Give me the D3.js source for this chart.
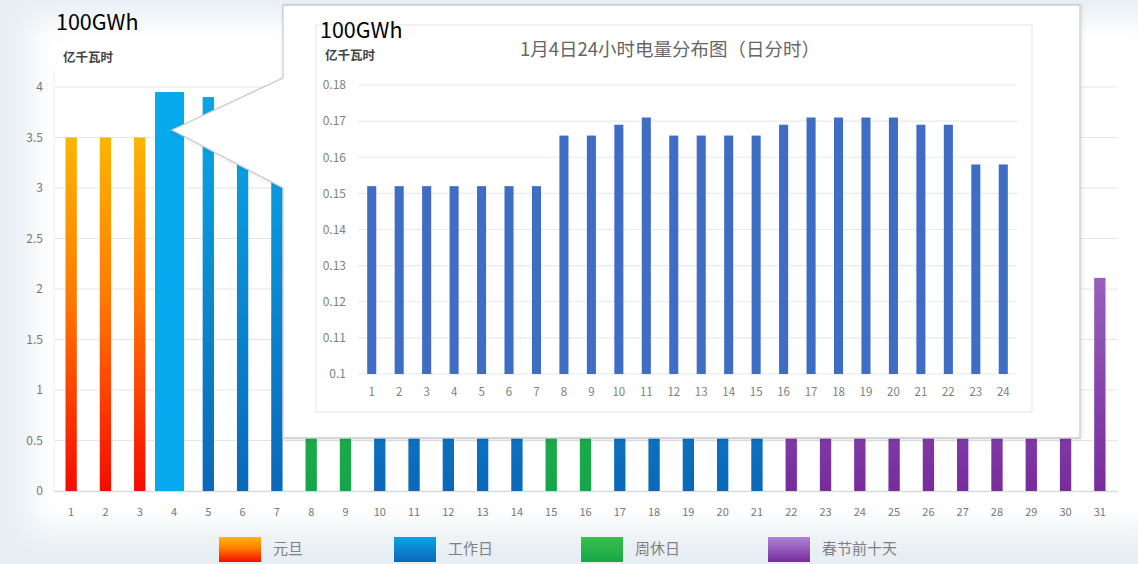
<!DOCTYPE html>
<html><head><meta charset="utf-8">
<script src="https://cdn.jsdelivr.net/npm/d3@7/dist/d3.min.js"></script>
<style>
body{margin:0;background:#fff;}
svg{display:block;}
text{font-family:"Noto Sans CJK SC","Noto Sans",sans-serif;}
</style>
</head><body>
<svg id="c" width="1138" height="564"></svg>
<script>
// ---------------- DATA ----------------
const dayLabels = ["1","2","3","4","5","6","7","8","9","10","11","12","13","14","15","16","17","18","19","20","21","22","23","24","25","26","27","28","29","30","31"];
const dayValues = [3.5,3.5,3.5,3.95,3.9,3.88,3.86,3.45,3.4,3.85,3.9,3.88,3.86,3.82,3.45,3.4,3.8,3.78,3.75,3.7,3.6,3.4,3.3,3.2,3.1,3.0,2.9,2.8,2.7,2.6,2.11];
const dayTypes = ["元旦","元旦","元旦","工作日","工作日","工作日","工作日","周休日","周休日","工作日","工作日","工作日","工作日","工作日","周休日","周休日","工作日","工作日","工作日","工作日","工作日","春节前十天","春节前十天","春节前十天","春节前十天","春节前十天","春节前十天","春节前十天","春节前十天","春节前十天","春节前十天"];
const highlightDay = "4";
const legendLabels = ["元旦","工作日","周休日","春节前十天"];
const mainTicks = [0,0.5,1,1.5,2,2.5,3,3.5,4];

const hourLabels = ["1","2","3","4","5","6","7","8","9","10","11","12","13","14","15","16","17","18","19","20","21","22","23","24"];
const hourValues = [0.152,0.152,0.152,0.152,0.152,0.152,0.152,0.166,0.166,0.169,0.171,0.166,0.166,0.166,0.166,0.169,0.171,0.171,0.171,0.171,0.169,0.169,0.158,0.158];
const insetTicks = [0.1,0.11,0.12,0.13,0.14,0.15,0.16,0.17,0.18];

const unitText = "100GWh";
const unitCN = "亿千瓦时";
const insetTitle = "1月4日24小时电量分布图（日分时）";

// ---------------- SETUP ----------------
const svg = d3.select("#c");
const defs = svg.append("defs");

const blur = defs.append("filter").attr("id","soft").attr("x","-10%").attr("y","-10%").attr("width","120%").attr("height","120%");
blur.append("feGaussianBlur").attr("stdDeviation",14);

const shadow = defs.append("filter").attr("id","shadow").attr("x","-5%").attr("y","-5%").attr("width","110%").attr("height","110%");
shadow.append("feDropShadow").attr("dx",1).attr("dy",1).attr("stdDeviation",2).attr("flood-color","#000").attr("flood-opacity",0.12);

// background
svg.append("rect").attr("width",1138).attr("height",564).attr("fill","#e7eef4");
svg.append("rect").attr("x",30).attr("y",18).attr("width",1130).attr("height",512).attr("fill","#ffffff").attr("filter","url(#soft)");

// gradients
const yMain = d3.scaleLinear().domain([0,4]).range([491,87]);
function vgrad(id, stops, user){
  const g = defs.append("linearGradient").attr("id",id).attr("x1",0).attr("x2",0);
  if(user){ g.attr("gradientUnits","userSpaceOnUse").attr("y1",yMain(3.6)).attr("y2",yMain(0)); }
  else { g.attr("y1",0).attr("y2",1); }
  stops.forEach(s=>g.append("stop").attr("offset",s[0]).attr("stop-color",s[1]));
}
const typeStops = {
  "元旦":[[0,"#fbb800"],[0.45,"#ff7d00"],[1,"#f60a00"]],
  "工作日":[[0,"#0aa3e4"],[1,"#0b68b9"]],
  "周休日":[[0,"#3cbf4c"],[1,"#16a649"]],
  "春节前十天":[[0,"#ad84d6"],[1,"#772c9c"]]
};
legendLabels.forEach((k,i)=>{
  vgrad("g"+i, typeStops[k], true);
  vgrad("l"+i, typeStops[k], false);
});
const typeIndex = k => legendLabels.indexOf(k);

// ---------------- MAIN CHART ----------------
const xMain = d3.scaleBand().domain(dayLabels).range([54,1117]).paddingInner(0.67).paddingOuter(0.335);

// gridlines
svg.append("g").selectAll("line").data(mainTicks.slice(1)).join("line")
  .attr("x1",54).attr("x2",1118).attr("y1",d=>yMain(d)).attr("y2",d=>yMain(d))
  .attr("stroke","#e4e6e8").attr("stroke-width",1.2);
svg.append("line").attr("x1",54).attr("x2",54).attr("y1",70).attr("y2",yMain(0)).attr("stroke","#eceef0");
svg.append("line").attr("x1",54).attr("x2",1118).attr("y1",yMain(0)+0.5).attr("y2",yMain(0)+0.5).attr("stroke","#d8dadc").attr("stroke-width",1.5);

// bars
svg.append("g").selectAll("rect").data(dayLabels).join("rect")
  .attr("x",(d)=> d===highlightDay ? xMain(d)+xMain.bandwidth()/2-19 : xMain(d))
  .attr("width",d=> d===highlightDay ? 29 : xMain.bandwidth())
  .attr("y",(d,i)=>yMain(dayValues[i]))
  .attr("height",(d,i)=>yMain(0)-yMain(dayValues[i]))
  .attr("fill",(d,i)=> d===highlightDay ? "#05a9ec" : `url(#g${typeIndex(dayTypes[i])})`);

// axes
const yAx = svg.append("g").attr("transform","translate(46,0)")
  .call(d3.axisLeft(yMain).tickValues(mainTicks).tickSize(0).tickFormat(d3.format("")));
yAx.select(".domain").remove();
yAx.selectAll("text").attr("font-size",12).attr("fill","#777").attr("font-family","Liberation Sans, Arial, sans-serif");

const xAx = svg.append("g").attr("transform",`translate(0,${yMain(0)+14})`)
  .call(d3.axisBottom(xMain).tickSize(0));
xAx.select(".domain").remove();
xAx.selectAll("text").attr("font-size",11).attr("fill","#777").attr("font-family","Liberation Sans, Arial, sans-serif");

svg.append("text").attr("x",63).attr("y",62).attr("font-size",12.5).attr("font-weight","bold").attr("fill","#444").text(unitCN);
svg.append("text").attr("x",56).attr("y",30).attr("font-size",21.5).attr("fill","#000").attr("font-family","Noto Sans, sans-serif").text(unitText);

// legend
const legX = [219,394,581,768];
const leg = svg.append("g");
legendLabels.forEach((k,i)=>{
  leg.append("rect").attr("x",legX[i]).attr("y",537).attr("width",42).attr("height",25).attr("fill",`url(#l${i})`);
  leg.append("text").attr("x",legX[i]+54).attr("y",554).attr("font-size",15).attr("fill","#808080").text(k);
});

// ---------------- CALLOUT / INSET ----------------
const calloutPts = [[283,5],[1080,5],[1080,438],[283,438],[283,188],[172,130],[283,78]];
svg.append("path").attr("d",d3.line()(calloutPts)+"Z")
  .attr("fill","#fff").attr("stroke","#c9cccf").attr("stroke-width",1.3).attr("filter","url(#shadow)");
svg.append("rect").attr("x",316).attr("y",25).attr("width",716).attr("height",387)
  .attr("fill","#fff").attr("stroke","#e6e8ea").attr("stroke-width",1.2);

const xIn = d3.scaleBand().domain(hourLabels).range([358,1017]).paddingInner(0.67).paddingOuter(0.335);
const yIn = d3.scaleLinear().domain([0.1,0.18]).range([374,85]);

svg.append("g").selectAll("line").data(insetTicks).join("line")
  .attr("x1",358).attr("x2",1017).attr("y1",d=>yIn(d)).attr("y2",d=>yIn(d))
  .attr("stroke","#e8e9eb").attr("stroke-width",1.2);

svg.append("g").selectAll("rect").data(hourLabels).join("rect")
  .attr("x",d=>xIn(d)).attr("width",xIn.bandwidth())
  .attr("y",(d,i)=>yIn(hourValues[i])).attr("height",(d,i)=>yIn(0.1)-yIn(hourValues[i]))
  .attr("fill","#3f6dc3");

const yInAx = svg.append("g").attr("transform","translate(349,0)")
  .call(d3.axisLeft(yIn).tickValues(insetTicks).tickSize(0).tickFormat(d3.format("")));
yInAx.select(".domain").remove();
yInAx.selectAll("text").attr("font-size",12).attr("fill","#808080").attr("font-family","Liberation Sans, Arial, sans-serif");

const xInAx = svg.append("g").attr("transform",`translate(0,${yIn(0.1)+11})`)
  .call(d3.axisBottom(xIn).tickSize(0));
xInAx.select(".domain").remove();
xInAx.selectAll("text").attr("font-size",11.5).attr("fill","#808080").attr("font-family","Liberation Sans, Arial, sans-serif");

svg.append("text").attr("x",670).attr("y",56).attr("text-anchor","middle").attr("font-size",18.5).attr("fill","#666").text(insetTitle);
svg.append("text").attr("x",325).attr("y",60).attr("font-size",12.5).attr("font-weight","bold").attr("fill","#444").text(unitCN);
svg.append("text").attr("x",320).attr("y",38).attr("font-size",21.5).attr("fill","#000").attr("font-family","Noto Sans, sans-serif").text(unitText);
</script>
</body></html>
